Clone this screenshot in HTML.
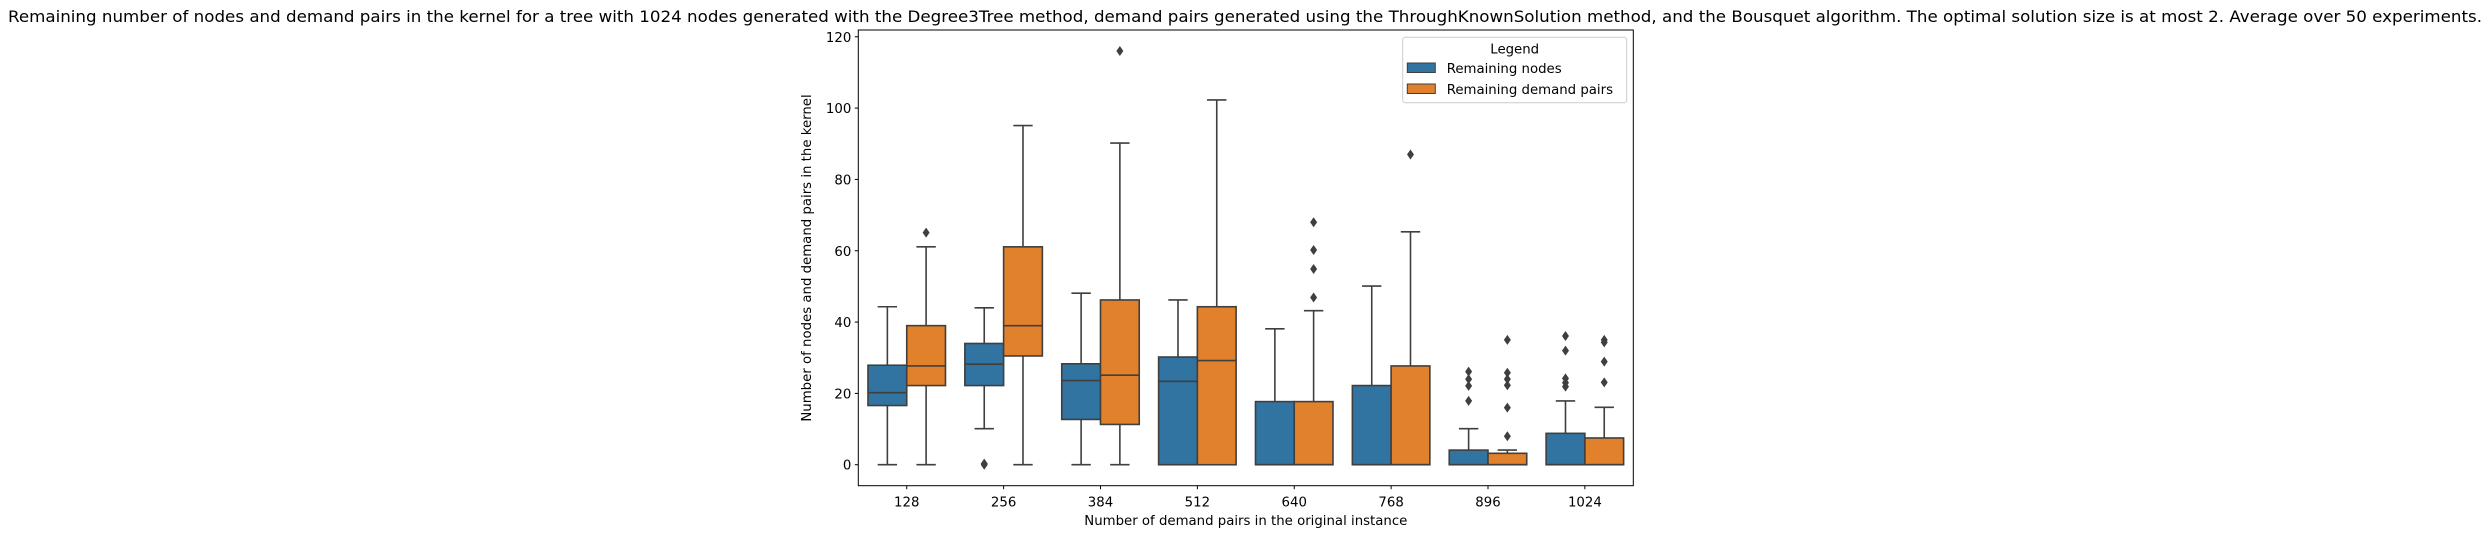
<!DOCTYPE html>
<html><head><meta charset="utf-8"><style>
html,body{margin:0;padding:0;background:#fff;}
svg{display:block;font-family:"DejaVu Sans","Liberation Sans",sans-serif;}
</style></head><body>
<svg id="chart" width="2490" height="545" viewBox="0 0 2490 545" xmlns="http://www.w3.org/2000/svg">
<text x="1245" y="22" font-size="16" text-anchor="middle" fill="#000" textLength="2474" lengthAdjust="spacingAndGlyphs">Remaining number of nodes and demand pairs in the kernel for a tree with 1024 nodes generated with the Degree3Tree method, demand pairs generated using the ThroughKnownSolution method, and the Bousquet algorithm. The optimal solution size is at most 2. Average over 50 experiments.</text>
<g id="plot"></g>
<rect x="858.3" y="30" width="775" height="455.7" fill="none" stroke="#000" stroke-width="1"/>
<text x="1245.8" y="525" font-size="13.3" text-anchor="middle">Number of demand pairs in the original instance</text>
<text x="0" y="0" font-size="13.3" text-anchor="middle" transform="translate(811,258) rotate(-90)">Number of nodes and demand pairs in the kernel</text>
<g>
<rect x="1402.7" y="37.3" width="224" height="65.4" rx="2.5" fill="#fff" fill-opacity="0.8" stroke="#ccc" stroke-width="1"/>
<text x="1514.7" y="53.5" font-size="13.3" text-anchor="middle">Legend</text>
<rect x="1407.3" y="63" width="28" height="9.5" fill="#3274a1" stroke="#3f3f3f" stroke-width="1"/>
<text x="1446.7" y="73" font-size="13.3">Remaining nodes</text>
<rect x="1407.3" y="84" width="28" height="9.5" fill="#e1812c" stroke="#3f3f3f" stroke-width="1"/>
<text x="1446.7" y="94" font-size="13.3">Remaining demand pairs</text>
</g>
</svg>
<script>
const categories = ["128","256","384","512","640","768","896","1024"];
const yTicks = [0,20,40,60,80,100,120];
const seriesNames = ["Remaining nodes","Remaining demand pairs"];
// [whiskerLow, Q1, median, Q3, whiskerHigh]
const nodesStats = [
  [0,16.6,20.2,27.9,44.3],[10.1,22.2,28.2,34,44],[0,12.7,23.6,28.3,48.1],[0,0,23.4,30.2,46.2],
  [0,0,0,17.7,38.1],[0,0,0,22.2,50.1],[0,0,0,4.1,10.1],[0,0,0,8.8,17.9]];
const pairsStats = [
  [0,22.2,27.7,39,61.1],[0,30.5,39,61.1,95.1],[0,11.3,25.1,46.2,90.2],[0,0,29.2,44.3,102.3],
  [0,0,0,17.7,43.2],[0,0,0,27.7,65.3],[0,0,0,3.2,4.1],[0,0,0,7.5,16.1]];
const nodesOutliers = [[],[0,0.3],[],[],[],[],[26.1,24,22.1,17.9],[36.1,32,24.2,21.9,23]];
const pairsOutliers = [[65.1],[],[116],[],[68,60.2,54.9,46.9],[87],[35,25.8,24,22.3,16,8],[35,34.3,28.9,23.1]];

const X0 = 858.3, W = 775, Y_TOP = 30, Y_BOT = 485.7;
const YMIN = -5.88, YMAX = 121.9;
const step = W / categories.length;
function xc(i){ return X0 + step*(i+0.5); }
function y(v){ return Y_BOT - (v - YMIN)/(YMAX - YMIN)*(Y_BOT - Y_TOP); }
const NS = "http://www.w3.org/2000/svg";
const svg = document.getElementById('chart');
const g = document.getElementById('plot');
function mk(tag, attrs, parent){
  const e = document.createElementNS(NS, tag);
  for (const k in attrs) e.setAttribute(k, attrs[k]);
  (parent||g).appendChild(e); return e;
}
yTicks.forEach(t => {
  const l = mk('line',{x1:X0-3.5,x2:X0,y1:y(t),y2:y(t),stroke:'#000','stroke-width':1});
  
  
  const tx = mk('text',{x:X0-7,y:y(t)+5,'font-size':13.3,'text-anchor':'end'});
  tx.textContent = t;
  
  
});
categories.forEach((c,i) => {
  const l = mk('line',{x1:xc(i),x2:xc(i),y1:Y_BOT,y2:Y_BOT+3.5,stroke:'#000','stroke-width':1});
  
  
  const tx = mk('text',{x:xc(i),y:Y_BOT+21,'font-size':13.3,'text-anchor':'middle'});
  tx.textContent = c;
  
  
});
const boxW = step*0.8/2;
const LC = '#3f3f3f';
function drawBox(i, s, stats, outl, color, key){
  const cx = xc(i) + (s===0 ? -boxW/2 : boxW/2);
  const grp = mk('g',{});
  
  
  const [lo,q1,med,q3,hi] = stats;
  mk('line',{x1:cx,x2:cx,y1:y(q3),y2:y(hi),stroke:LC,'stroke-width':1.6},grp);
  mk('line',{x1:cx,x2:cx,y1:y(q1),y2:y(lo),stroke:LC,'stroke-width':1.6},grp);
  mk('line',{x1:cx-boxW/4,x2:cx+boxW/4,y1:y(hi),y2:y(hi),stroke:LC,'stroke-width':1.6},grp);
  mk('line',{x1:cx-boxW/4,x2:cx+boxW/4,y1:y(lo),y2:y(lo),stroke:LC,'stroke-width':1.6},grp);
  mk('rect',{x:cx-boxW/2,y:y(q3),width:boxW,height:Math.max(0,y(q1)-y(q3)),fill:color,stroke:LC,'stroke-width':1.6},grp);
  mk('line',{x1:cx-boxW/2,x2:cx+boxW/2,y1:y(med),y2:y(med),stroke:LC,'stroke-width':1.6},grp);
  outl.forEach(v => {
    const py = y(v);
    const d = mk('path',{d:`M${cx},${py-5} L${cx+3.5},${py} L${cx},${py+5} L${cx-3.5},${py} Z`,fill:LC},grp);
    
    
  });
}
categories.forEach((c,i) => {
  drawBox(i,0,nodesStats[i],nodesOutliers[i],'#3274a1','nodes');
  drawBox(i,1,pairsStats[i],pairsOutliers[i],'#e1812c','demand-pairs');
});
</script>
</body></html>
